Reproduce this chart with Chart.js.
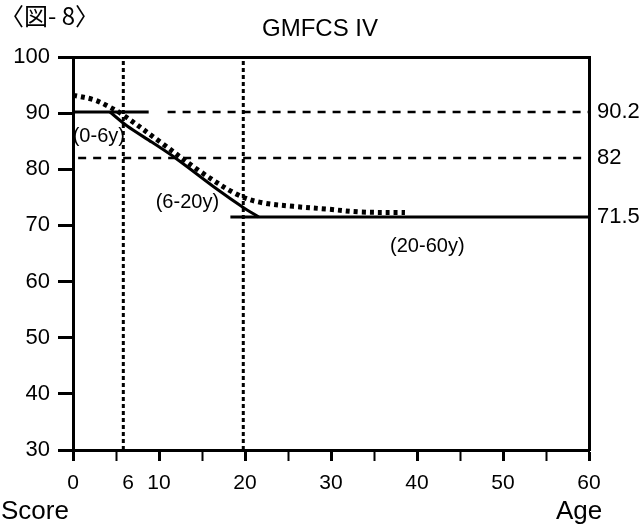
<!DOCTYPE html>
<html>
<head>
<meta charset="utf-8">
<script src="https://cdn.jsdelivr.net/npm/chart.js@4.4.1/dist/chart.umd.min.js"></script>
<style>
    html, body { margin: 0; padding: 0; background: #fff; }
    #wrap { width: 644px; height: 524px; }
</style>
</head>
<body>
<div id="wrap"><canvas id="myChart" width="644" height="524"></canvas></div>
<script>
// values (age in years, score)
const solidAge = [4.3, 6.3, 9.2, 12.1, 16.8, 19.8, 21.6];
const solidScore = [90.2, 87.7, 84.8, 81.8, 76.4, 73.2, 71.5];
const stubAge = [0, 8.8];
const stubScore = [90.2, 90.2];
const adultAge = [18.3, 60];
const adultScore = [71.5, 71.5];
const dottedAge = [0, 2.4, 4, 5.7, 10.2, 14.8, 19.1, 21.8, 25.6, 29.6, 33.4, 38.6];
const dottedScore = [93.2, 92.4, 91.3, 89.8, 84.8, 79.6, 75.5, 74.1, 73.4, 72.9, 72.4, 72.3];
const refLevels = [90.2, 82, 71.5];
const refStart = [11, 0.6];
const vLines = [5.85, 19.8];
const xTicks = [0, 5, 6.4, 10, 15, 20, 25, 30, 35, 40, 45, 50, 55, 60];
const xLabels = { 0: '0', 6.4: '6', 10: '10', 20: '20', 30: '30', 40: '40', 50: '50', 60: '60' };
const yTicks = [30, 40, 50, 60, 70, 80, 90, 100];
const segLabels = [
    { text: '(0-6y)', x: 3.0, y: 85.8 },
    { text: '(6-20y)', x: 13.3, y: 74.0 },
    { text: '(20-60y)', x: 41.2, y: 66.2 }
];

function pts(xs, ys) {
    return xs.map((x, i) => ({ x: x, y: ys[i] }));
}

const FONT = '"Liberation Sans", Arial, sans-serif';

const lineStyle = {
    type: 'scatter', showLine: true, pointRadius: 0, borderColor: '#000',
    fill: false
};

const datasets = [
    Object.assign({}, lineStyle, { data: pts(stubAge, stubScore), borderWidth: 3 }),
    Object.assign({}, lineStyle, { data: pts(solidAge, solidScore), borderWidth: 3, tension: 0.3 }),
    Object.assign({}, lineStyle, { data: pts(adultAge, adultScore), borderWidth: 3 }),
    Object.assign({}, lineStyle, {
        data: pts(dottedAge, dottedScore), borderWidth: 5, tension: 0.35,
        borderDash: [4, 4]
    }),
    Object.assign({}, lineStyle, {
        data: [{ x: refStart[0], y: refLevels[0] }, { x: 60, y: refLevels[0] }],
        borderWidth: 2.5, borderDash: [8, 7]
    }),
    Object.assign({}, lineStyle, {
        data: [{ x: refStart[1], y: refLevels[1] }, { x: 60, y: refLevels[1] }],
        borderWidth: 2.5, borderDash: [8, 7]
    })
];
vLines.forEach(function (v) {
    datasets.push(Object.assign({}, lineStyle, {
        data: [{ x: v, y: 30 }, { x: v, y: 100 }],
        borderWidth: 3, borderDash: [4, 3]
    }));
});

// free text: figure number, title, axis names, segment labels
const textPlugin = {
    id: 'texts',
    afterDraw(chart) {
        const ctx = chart.ctx;
        const xs = chart.scales.x, ys = chart.scales.y;
        ctx.save();
        ctx.fillStyle = '#000';
        ctx.textBaseline = 'middle';
        ctx.textAlign = 'left';
        ctx.font = '24px "Noto Sans CJK JP", ' + FONT;
        ctx.fillText('〈図- 8〉', 0, 16);
        ctx.textAlign = 'center';
        ctx.font = '24px ' + FONT;
        ctx.fillText('GMFCS IV', 320, 29);
        ctx.font = '26px ' + FONT;
        ctx.textAlign = 'left';
        ctx.fillText('Score', 1, 512);
        ctx.fillText('Age', 556, 512);
        ctx.font = '20px ' + FONT;
        ctx.textAlign = 'center';
        segLabels.forEach(function (l) {
            ctx.fillText(l.text, xs.getPixelForValue(l.x), ys.getPixelForValue(l.y));
        });
        ctx.restore();
    }
};

const ctx = document.getElementById('myChart');

const myChart = new Chart(ctx, {
    type: 'scatter',
    data: { datasets: datasets },
    options: {
        responsive: false,
        animation: false,
        layout: { padding: 0 },
        plugins: {
            legend: { display: false },
            tooltip: { enabled: false }
        },
        scales: {
            x: {
                type: 'linear', position: 'bottom', min: 0, max: 60,
                afterBuildTicks: function (s) { s.ticks = xTicks.map(v => ({ value: v })); },
                afterFit: function (s) { s.height = 74; },
                ticks: {
                    autoSkip: false, maxRotation: 0, padding: 10,
                    color: '#000', font: { family: FONT, size: 21 },
                    callback: function (v) { return xLabels[v] || ''; }
                },
                grid: {
                    drawOnChartArea: false, tickLength: 11,
                    tickColor: function (c) { return c.tick && c.tick.value === 6.4 ? 'rgba(0,0,0,0)' : '#000'; },
                    tickWidth: function (c) { return c.tick && c.tick.value % 10 === 0 ? 3 : 2; }
                },
                border: { color: '#000', width: 3 }
            },
            xTop: {
                type: 'linear', position: 'top', min: 0, max: 60,
                afterFit: function (s) { s.height = 57; },
                ticks: { display: false },
                grid: { drawOnChartArea: false, drawTicks: false },
                border: { color: '#000', width: 3 }
            },
            y: {
                type: 'linear', position: 'left', min: 30, max: 100,
                afterBuildTicks: function (s) { s.ticks = yTicks.map(v => ({ value: v })); },
                afterFit: function (s) { s.width = 73; },
                ticks: {
                    padding: 8, color: '#000', font: { family: FONT, size: 22 }
                },
                grid: { drawOnChartArea: false, tickLength: 15, tickWidth: 3, tickColor: '#000' },
                border: { color: '#000', width: 3 }
            },
            yRight: {
                type: 'linear', position: 'right', min: 30, max: 100,
                afterBuildTicks: function (s) { s.ticks = refLevels.map(v => ({ value: v })); },
                afterFit: function (s) { s.width = 55; },
                ticks: {
                    padding: 8, color: '#000', font: { family: FONT, size: 22 },
                    callback: function (v) { return String(v); }
                },
                grid: { drawOnChartArea: false, drawTicks: false },
                border: { color: '#000', width: 3 }
            }
        }
    },
    plugins: [textPlugin]
});
</script>
</body>
</html>
